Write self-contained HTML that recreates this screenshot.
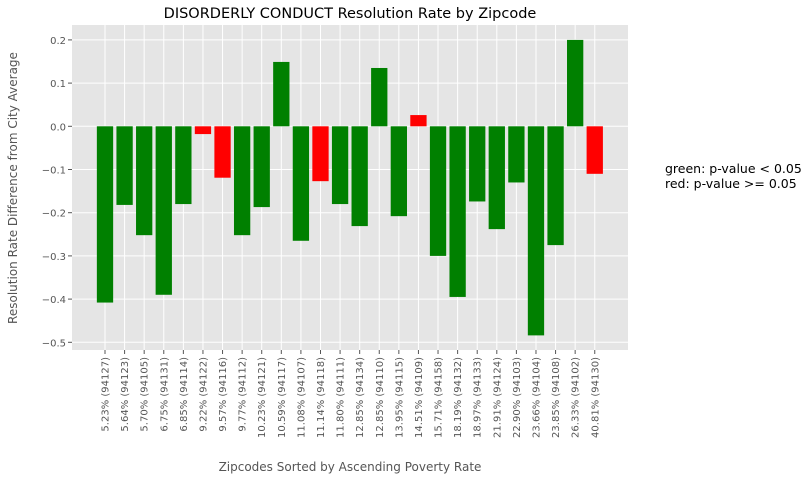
<!DOCTYPE html>
<html><head><meta charset="utf-8"><style>
body{margin:0;background:#fff;font-family:"Liberation Sans","DejaVu Sans",sans-serif;}
svg text{font-family:"DejaVu Sans","Liberation Sans",sans-serif;}
</style></head><body>
<svg id="chart" width="808" height="481" xmlns="http://www.w3.org/2000/svg">
<rect x="72" y="25" width="556" height="325" fill="#e5e5e5"/>
<g id="grid"></g><g id="bars"></g><g id="xt"></g><g id="yt"></g>
<text x="350" y="18" text-anchor="middle" font-size="14.5" fill="#000">DISORDERLY CONDUCT Resolution Rate by Zipcode</text>
<text transform="translate(17,188) rotate(-90)" text-anchor="middle" font-size="12" fill="#555">Resolution Rate Difference from City Average</text>
<text x="350" y="471" text-anchor="middle" font-size="12" fill="#555">Zipcodes Sorted by Ascending Poverty Rate</text>
<text x="665" y="173" font-size="12.5" fill="#000">green: p-value &lt; 0.05</text>
<text x="665" y="188" font-size="12.5" fill="#000">red: p-value &gt;= 0.05</text>
</svg>
<script>
const categories=["5.23%  (94127)","5.64%  (94123)","5.70%  (94105)","6.75%  (94131)","6.85%  (94114)","9.22%  (94122)","9.57%  (94116)","9.77%  (94112)","10.23%  (94121)","10.59%  (94117)","11.08%  (94107)","11.14%  (94118)","11.80%  (94111)","12.85%  (94134)","12.85%  (94110)","13.95%  (94115)","14.51%  (94109)","15.71%  (94158)","18.19%  (94132)","18.97%  (94133)","21.91%  (94124)","22.90%  (94103)","23.66%  (94104)","23.85%  (94108)","26.33%  (94102)","40.81%  (94130)"];
const values=[-0.408,-0.182,-0.252,-0.39,-0.18,-0.018,-0.119,-0.252,-0.187,0.149,-0.265,-0.127,-0.18,-0.231,0.135,-0.208,0.026,-0.30,-0.395,-0.174,-0.238,-0.13,-0.484,-0.275,0.2,-0.11];
const significant=[1,1,1,1,1,0,0,1,1,1,1,0,1,1,1,1,0,1,1,1,1,1,1,1,1,0];
const yTicks=[0.2,0.1,0.0,-0.1,-0.2,-0.3,-0.4,-0.5];
const NS="http://www.w3.org/2000/svg";
const xs=i=>105+i*19.59;
const ys=v=>126.3-v*432;
const mk=(t,a,p)=>{const e=document.createElementNS(NS,t);for(const k in a)e.setAttribute(k,a[k]);document.getElementById(p).appendChild(e);return e;};
yTicks.forEach(v=>{
 const g=mk('line',{x1:72,x2:628,y1:ys(v),y2:ys(v),stroke:'#fff','stroke-width':1},'grid');
 
 
 mk('line',{x1:68,x2:72,y1:ys(v),y2:ys(v),stroke:'#555'},'yt');
 const t=mk('text',{x:66,y:ys(v)+4,'text-anchor':'end','font-size':10,fill:'#555'},'yt');
 t.textContent=(v<0?'\u2212':'')+Math.abs(v).toFixed(1);
 
 
});
categories.forEach((c,i)=>{
 const g=mk('line',{x1:xs(i),x2:xs(i),y1:25,y2:350,stroke:'#fff','stroke-width':1},'grid');
 
 
 const v=values[i];
 const r=mk('rect',{x:xs(i)-8.15,width:16.3,y:Math.min(ys(v),ys(0)),height:Math.abs(ys(v)-ys(0)),fill:significant[i]?'#008000':'#ff0000'},'bars');
 
 
 mk('line',{x1:xs(i),x2:xs(i),y1:350,y2:354,stroke:'#555'},'xt');
 const t=mk('text',{transform:`translate(${xs(i)+3.5},357) rotate(-90)`,'text-anchor':'end','font-size':10,fill:'#555','xml:space':'preserve'},'xt');
 t.textContent=c;
 
 
});
</script>
</body></html>
